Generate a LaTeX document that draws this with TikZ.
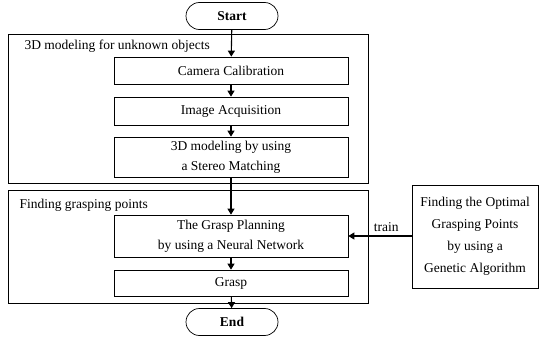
\documentclass[tikz,border=0pt]{standalone}
\usepackage{fontspec}
\setmainfont{Liberation Serif}
\usetikzlibrary{arrows.meta,shapes.misc}
\begin{document}
\begin{tikzpicture}[x=1pt,y=-1pt,
  every node/.style={font=\fontsize{13.5}{20}\selectfont},
  group/.style={draw, line width=0.8pt},
  stepbox/.style={draw, line width=0.7pt, minimum width=234pt, align=center, inner sep=0pt},
  pill/.style={draw, line width=0.7pt, rounded rectangle, minimum width=92pt, minimum height=27pt, inner sep=0pt},
  arr/.style={-{Triangle[length=6pt,width=7pt]}, line width=1.1pt}]
\useasboundingbox (0,0) rectangle (539,337);
\node[pill] (start) at (232,16) {\textbf{Start}};
\draw[group] (8,34) rectangle (368,183);
\node[anchor=west] (t1) at (21,46) {3D modeling for unknown objects};
\node[stepbox, minimum height=27pt] (cam) at (231,70.5) {Camera Calibration};
\node[stepbox, minimum height=28pt] (img) at (231,111) {Image Acquisition};
\node[stepbox, minimum height=40pt] (model) at (231,157) {3D modeling by using\\a Stereo Matching};
\draw[group] (8,190) rectangle (368,303);
\node[anchor=west] (t2) at (16,205) {Finding grasping points};
\node[stepbox, minimum height=42pt] (plan) at (231,236) {The Grasp Planning\\by using a Neural Network};
\node[stepbox, minimum height=26pt] (grasp) at (231,283) {Grasp};
\node[pill] (end) at (232,322) {\textbf{End}};
\node[draw, line width=0.7pt, minimum width=126pt, minimum height=103pt, align=center, inner sep=0pt, font=\fontsize{13.5}{22}\selectfont] (ga) at (475,236.5) {Finding the Optimal\\Grasping Points\\by using a\\Genetic Algorithm};
\draw[arr] (start) -- (cam);
\draw[arr] (cam) -- (img);
\draw[arr] (img) -- (model);
\draw[arr] (model) -- (plan);
\draw[arr] (plan) -- (grasp);
\draw[arr] (grasp) -- (end);
\draw[arr] (ga.west |- plan) -- node[above, pos=0.4] (lbl) {train} (plan.east);
\end{tikzpicture}
\end{document}
